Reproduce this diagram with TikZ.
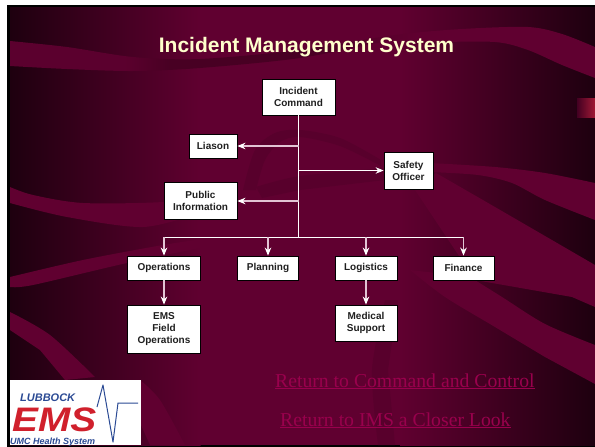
\documentclass[tikz,border=0pt]{standalone}
\usepackage{fontspec}
\setmainfont{Liberation Sans}
\newfontfamily\serifface{Liberation Serif}
\usetikzlibrary{arrows.meta}
\definecolor{bgmid}{HTML}{600030}
\definecolor{bgdark}{HTML}{1E000F}
\definecolor{faint}{HTML}{58002C}
\definecolor{tail}{HTML}{480023}
\definecolor{shaft}{HTML}{E2C4D4}
\definecolor{titlecol}{HTML}{FFFFCC}
\definecolor{linkcol}{HTML}{99004D}
\definecolor{logoblue}{HTML}{2B4A94}
\definecolor{logored}{HTML}{D0202C}
\tikzset{
  boxnode/.style={draw=black,fill=white,line width=0.8pt,inner sep=0pt,align=center,
    font=\fontsize{10}{12}\selectfont\bfseries,text=black!88},
  band/.style={fill=bgmid},
  faintband/.style={fill=faint},
  arrowpink/.style={draw=shaft,line width=1.3pt,-{Stealth[length=8pt,width=6.5pt,color=white]}},
  arrowwhite/.style={draw=white,line width=0.9pt,-{Stealth[length=8pt,width=6.5pt,color=white]}},
  trunk/.style={draw=white,line width=0.9pt},
  linktext/.style={font=\serifface\fontsize{19.7}{22}\selectfont,text=linkcol,inner sep=0pt,anchor=base west},
  logotext/.style={inner sep=0pt,anchor=base west}
}
\begin{document}
\begin{tikzpicture}[x=1pt,y=-1pt]
\useasboundingbox (0,0) rectangle (595,447);
\fill[white] (0,0) rectangle (595,447);
\fill[black] (7,5) rectangle (595,447);
% background gradient
\shade[left color=bgdark,right color=bgmid] (10,7) rectangle (200.5,445);
\fill[bgmid] (200,7) rectangle (400.5,445);
\shade[left color=bgmid,right color=bgdark] (400,7) rectangle (595,445);
% faint centre shapes
\fill[faintband] plot[smooth] coordinates {(243,190)(255,150)(275,133)(300,130)(340,138)(381,160)} -- plot[smooth] coordinates {(381,166)(340,146)(300,137)(280,142)(265,160)(256,190)} -- cycle;
\fill[faintband] plot[smooth] coordinates {(256,187)(300,176)(385,168)} -- (385,180) -- plot[smooth] coordinates {(300,190)(262,198)} -- cycle;
\fill[faintband] plot[smooth] coordinates {(385,300)(372,370)(378,445)} -- (395,445) -- plot[smooth] coordinates {(388,370)(398,300)} -- cycle;
% top swoosh
\begin{scope}
\clip plot[smooth] coordinates {(10,41)(67,47)(133,57)(200,59)(300,50)(395,35)(462,29)(528,27)(562,34)(595,47)} -- plot[smooth] coordinates {(595,78)(562,65)(528,50)(495,42)(428,42)(395,40)(300,58)(200,68)(133,71)(67,69)(10,66)} -- cycle;
\fill[bgmid!95!black] (10,0) rectangle (125.5,100);
\shade[left color=bgmid!95!black,right color=tail] (125,0) rectangle (170.5,100);
\fill[tail] (170,0) rectangle (300.5,100);
\shade[left color=tail,right color=bgmid] (300,0) rectangle (420.5,100);
\fill[bgmid] (420,0) rectangle (595,100);
\end{scope}
% right marker
\shade[left color=bgmid!70!black,right color=bgmid!65!red!90!white] (577,98) rectangle (595,117);
% right swooshes
\fill[band] plot[smooth] coordinates {(430,163)(495,167)(545,173)(595,183)} -- plot[smooth] coordinates {(595,220)(545,200)(512,183)(478,175)(430,172)} -- cycle;
\fill[band] plot[smooth] coordinates {(436,173)(495,207)(595,265)} -- (595,307) -- (572,297) -- (475,280) -- (415,190) -- cycle;
\fill[band] plot[smooth] coordinates {(470,277)(502,297)(545,324)(595,345)} -- (595,384) -- plot[smooth] coordinates {(545,357)(495,327)(445,297)(410,270)} -- cycle;
% left swooshes
\fill[band] plot[smooth] coordinates {(10,187)(33,195)(83,203)(163,202)(200,195)} -- plot[smooth] coordinates {(200,213)(143,227)(67,217)(10,203)} -- cycle;
\fill[band] plot[smooth] coordinates {(10,277)(83,260)(163,245)(210,238)} -- plot[smooth] coordinates {(210,246)(127,263)(33,285)(10,287)} -- cycle;
\fill[band] plot[smooth] coordinates {(10,312)(50,335)(95,377)} -- (65,380) -- plot[smooth] coordinates {(40,350)(10,330)} -- cycle;
\fill[band] plot[smooth] coordinates {(140,380)(160,400)(185,445)} -- (150,445) -- (141,425) -- cycle;
% title
\node[inner sep=0pt,text=titlecol,font=\fontsize{21}{24}\selectfont\bfseries] (title) at (306.5,47.3) {Incident Management System};
% boxes
\node[boxnode,minimum width=73pt,minimum height=36pt] (ic) at (298.5,97) {Incident\\Command};
\node[boxnode,minimum width=48pt,minimum height=24pt] (li) at (213,146) {Liason};
\node[boxnode,minimum width=49pt,minimum height=37pt] (so) at (408.5,170.5) {Safety\\Officer};
\node[boxnode,minimum width=73pt,minimum height=37pt] (pi) at (200.5,201) {Public\\Information};
\node[boxnode,minimum width=73pt,minimum height=24pt] (op) at (164,268) {Operations};
\node[boxnode,minimum width=61pt,minimum height=24pt] (pl) at (268,268) {Planning};
\node[boxnode,minimum width=62pt,minimum height=24pt] (lo) at (366,268) {Logistics};
\node[boxnode,minimum width=61pt,minimum height=24pt] (fi) at (463.5,268) {Finance};
\node[boxnode,minimum width=73pt,minimum height=48pt] (em) at (164,329) {EMS\\Field\\Operations};
\node[boxnode,minimum width=62pt,minimum height=36pt] (ms) at (366,323) {Medical\\Support};
% connectors
\coordinate (j0) at (298.5,237);
\coordinate (j1) at (298.5,146);
\coordinate (j2) at (298.5,170.5);
\coordinate (j3) at (298.5,201);
\coordinate (b1) at (164,237);
\coordinate (b2) at (268,237);
\coordinate (b3) at (366,237);
\coordinate (b4) at (463.5,237);
\draw[trunk] (ic.south) -- (j0);
\draw[trunk] (b1) -- (b4);
\draw[arrowpink] (j1) -- (li.east);
\draw[arrowwhite] (j2) -- (so.west);
\draw[arrowpink] (j3) -- (pi.east);
\draw[arrowpink] (b1) -- (op.north);
\draw[arrowpink] (b2) -- (pl.north);
\draw[arrowpink] (b3) -- (lo.north);
\draw[arrowpink] (b4) -- (fi.north);
\draw[arrowpink] (op.south) -- (em.north);
\draw[arrowpink] (lo.south) -- (ms.north);
% links
\node[linktext] (l1) at (275,387) {\underline{Return to Command and Control}};
\node[linktext] (l2) at (280,426) {\underline{Return to IMS a Closer Look}};
% logo
\fill[white] (10,380) rectangle (141,445);
\draw[logoblue,line width=1pt,line join=round] (97,407) -- (103,385) -- (113,442) -- (118,403) -- (138,403);
\node[logotext,text=logoblue,font=\fontsize{11}{12}\selectfont\bfseries\itshape] (lub) at (20,401) {LUBBOCK};
\node[logotext,text=logored,font=\fontsize{34}{35}\selectfont\bfseries\itshape,xscale=1.14] (ems) at (12,431) {EMS};
\node[logotext,text=logoblue,font=\fontsize{9}{10}\selectfont\bfseries\itshape] (umc) at (10,444.5) {UMC Health System};
\end{tikzpicture}
\end{document}
